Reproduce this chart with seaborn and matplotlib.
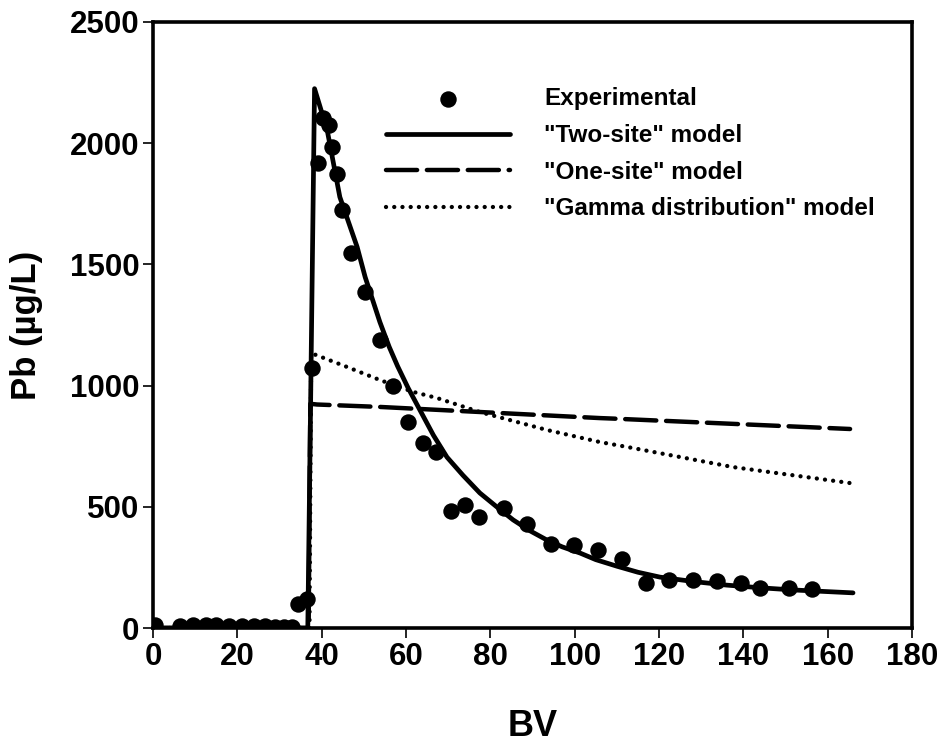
import pandas as pd
import seaborn as sns
import matplotlib.pyplot as plt

# experimental breakthrough data (BV, Pb ug/L)
exp_bv = [0.5, 6.5, 9.5, 12.5, 15, 18, 21, 24, 26.5, 29, 31, 33,
          34.3, 36.6, 37.7, 39.1, 40.3, 41.7, 42.4, 43.6, 44.8, 47, 50.3,
          53.8, 57, 60.5, 64, 67.2, 70.7, 74, 77.3, 83.2, 88.7, 94.4, 99.8,
          105.5, 111.2, 116.9, 122.4, 128, 133.7, 139.4, 143.9, 150.8, 156.3]
exp_pb = [12, 10, 12, 14, 12, 10, 10, 8, 8, 6, 6, 5,
          100, 118, 1072, 1918, 2104, 2075, 1985, 1873, 1724, 1547, 1386,
          1190, 998, 850, 765, 726, 483, 507, 458, 495, 429, 347, 342,
          320, 285, 186, 198, 198, 194, 186, 165, 165, 161]

# model curves
two_bv = [0, 36.7, 38.3, 41.3, 44.3, 48.4, 50.3, 53.8, 56, 58, 60.5, 63.3,
          66.5, 69.7, 73.5, 77.5, 81.5, 85.4, 89.5, 93.4, 97, 101.3, 105,
          110, 115, 120.2, 128, 136, 144, 151.8, 166]
two_pb = [0, 0, 2225, 2054, 1778, 1572, 1448, 1262, 1160, 1080, 990, 899,
          795, 705, 630, 557, 500, 446, 400, 363, 335, 309, 282,
          255, 230, 210, 192, 177, 166, 157, 145]

one_bv = [0, 36.9, 37.3, 38.9, 53.8, 106, 109, 165.3]
one_pb = [0, 0, 925, 922, 912, 866, 864, 821]

gam_bv = [0, 37.1, 37.5, 46, 53.8, 61.7, 67.3, 77.5, 93.4, 106, 112.4, 137.5, 165.3]
gam_pb = [0, 0, 1134, 1077, 1023, 974, 949, 891, 817, 767, 747, 664, 598]

sns.set_theme(style="ticks")
plt.rcParams['font.family'] = ['Liberation Sans', 'DejaVu Sans']
plt.rcParams['font.weight'] = 'bold'
plt.rcParams['text.color'] = 'black'
plt.rcParams['axes.labelcolor'] = 'black'
plt.rcParams['xtick.color'] = 'black'
plt.rcParams['ytick.color'] = 'black'

fig = plt.figure(figsize=(9.47, 7.56), dpi=100)
ax = fig.add_axes([0.1616, 0.1693, 0.8015, 0.8016])

sns.scatterplot(x=exp_bv, y=exp_pb, ax=ax, color='black', s=140,
                linewidth=0, label='Experimental', zorder=3)
sns.lineplot(x=two_bv, y=two_pb, ax=ax, color='black', lw=3.4,
             estimator=None, sort=False, label='"Two-site" model')
sns.lineplot(x=one_bv, y=one_pb, ax=ax, color='black', lw=3.2,
             estimator=None, sort=False, linestyle=(0, (7, 2.2)),
             dash_capstyle='round', label='"One-site" model')
sns.lineplot(x=gam_bv, y=gam_pb, ax=ax, color='black', lw=3.1,
             estimator=None, sort=False, linestyle=(0, (0.01, 1.9)),
             dash_capstyle='round', label='"Gamma distribution" model')

ax.set_xlim(0, 180)
ax.set_ylim(0, 2500)
ax.set_xticks(range(0, 181, 20))
ax.set_yticks(range(0, 2501, 500))
ax.tick_params(direction='out', length=7, width=1.2, labelsize=22.5, pad=3,
               color='black', labelcolor='black')
for lab in ax.get_xticklabels() + ax.get_yticklabels():
    lab.set_fontweight('bold')
for sp in ax.spines.values():
    sp.set_linewidth(2.6)
    sp.set_color('black')

ax.set_xlabel('BV', fontsize=26, fontweight='bold', labelpad=27)
ax.set_ylabel('Pb (\u00b5g/L)', fontsize=25, fontweight='bold', labelpad=19)

handles, labels = ax.get_legend_handles_labels()
leg = ax.legend(handles, labels, loc='upper left',
                bbox_to_anchor=(0.307, 0.892), frameon=False,
                fontsize=17.5, handlelength=5.1, handletextpad=1.4,
                labelspacing=0.56, borderpad=0, borderaxespad=0)
for t in leg.get_texts():
    t.set_fontweight('bold')
    t.set_color('black')

fig.savefig('out.png', dpi=100)
